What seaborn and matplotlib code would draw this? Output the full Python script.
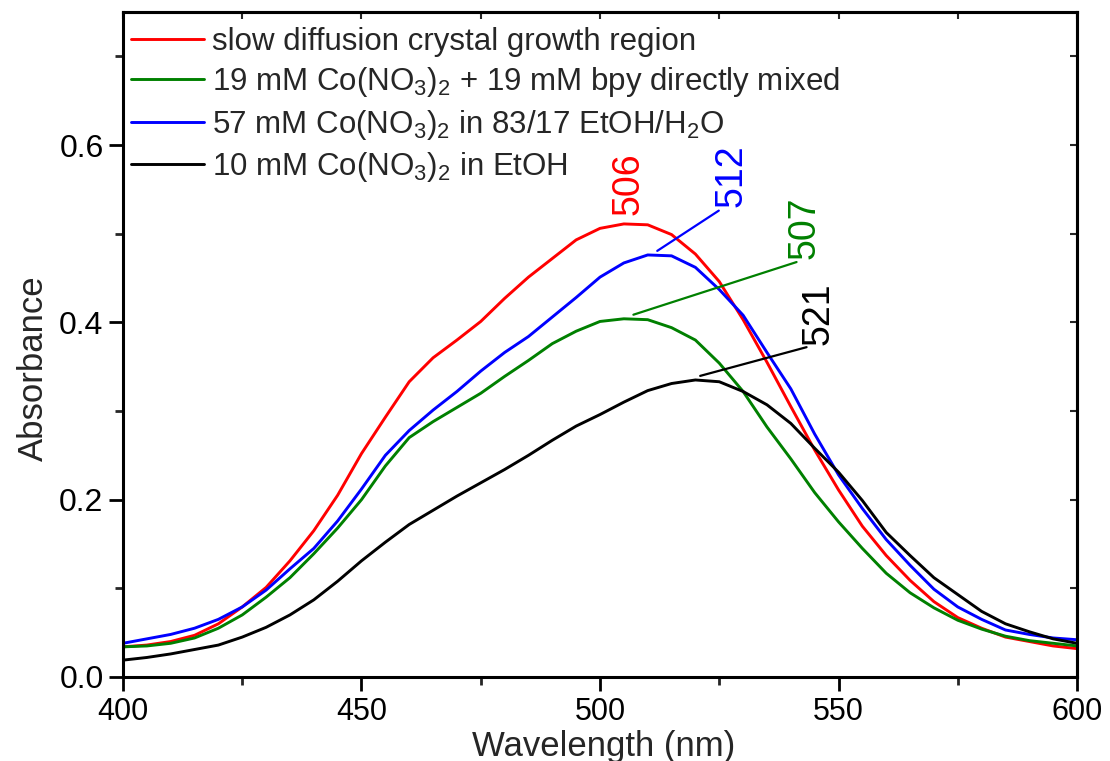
import numpy as np
import pandas as pd
import matplotlib
matplotlib.use("Agg")
import matplotlib.pyplot as plt
import seaborn as sns
from matplotlib.ticker import MultipleLocator, NullFormatter, FormatStrFormatter
from matplotlib.lines import Line2D

# ---- spectra (absorbance vs wavelength, nm) ----
wavelength = [400, 405, 410, 415, 420, 425, 430, 435, 440, 445,
              450, 455, 460, 465, 470, 475, 480, 485, 490, 495,
              500, 505, 510, 515, 520, 525, 530, 535, 540, 545,
              550, 555, 560, 565, 570, 575, 580, 585, 590, 595, 600]

slow_diffusion = [0.034, 0.036, 0.040, 0.047, 0.060, 0.079, 0.101, 0.131, 0.165, 0.205,
                  0.252, 0.293, 0.333, 0.360, 0.380, 0.401, 0.427, 0.451, 0.472, 0.493,
                  0.506, 0.511, 0.510, 0.499, 0.477, 0.446, 0.403, 0.355, 0.305, 0.256,
                  0.211, 0.170, 0.137, 0.109, 0.085, 0.067, 0.055, 0.045, 0.040, 0.035, 0.032]

direct_mix = [0.034, 0.035, 0.038, 0.044, 0.055, 0.070, 0.090, 0.112, 0.139, 0.168,
              0.200, 0.238, 0.270, 0.288, 0.304, 0.320, 0.339, 0.357, 0.376, 0.390,
              0.401, 0.404, 0.403, 0.394, 0.380, 0.354, 0.322, 0.282, 0.246, 0.208,
              0.175, 0.145, 0.117, 0.095, 0.078, 0.064, 0.054, 0.046, 0.041, 0.038, 0.035]

etoh_water = [0.038, 0.043, 0.048, 0.055, 0.065, 0.079, 0.098, 0.122, 0.145, 0.176,
              0.212, 0.250, 0.278, 0.301, 0.322, 0.345, 0.366, 0.384, 0.406, 0.428,
              0.451, 0.467, 0.476, 0.475, 0.462, 0.437, 0.408, 0.366, 0.325, 0.274,
              0.228, 0.190, 0.155, 0.126, 0.099, 0.079, 0.065, 0.053, 0.048, 0.044, 0.042]

etoh_only = [0.019, 0.022, 0.026, 0.031, 0.036, 0.045, 0.056, 0.070, 0.087, 0.108,
             0.131, 0.152, 0.172, 0.188, 0.204, 0.219, 0.234, 0.250, 0.267, 0.283,
             0.296, 0.310, 0.323, 0.331, 0.335, 0.333, 0.322, 0.307, 0.286, 0.258,
             0.231, 0.199, 0.163, 0.137, 0.112, 0.093, 0.074, 0.060, 0.051, 0.043, 0.038]

series_labels = [
    "slow diffusion crystal growth region",
    "19 mM Co(NO$_3$)$_2$ + 19 mM bpy directly mixed",
    "57 mM Co(NO$_3$)$_2$ in 83/17 EtOH/H$_2$O",
    "10 mM Co(NO$_3$)$_2$ in EtOH",
]
series_values = [slow_diffusion, direct_mix, etoh_water, etoh_only]
peak_nm = [506, 507, 512, 521]

colors = ["#ff0000", "#008000", "#0000ff", "#000000"]

# where each peak label sits and where its leader line ends
label_pos = [(506.0, 0.521), (542.8, 0.472), (527.6, 0.530), (545.9, 0.374)]
leader_end = [None, (541.2, 0.468), (524.9, 0.526), (543.3, 0.372)]

df = pd.concat(
    [pd.DataFrame({"Wavelength": wavelength, "Absorbance": vals, "sample": lab})
     for lab, vals in zip(series_labels, series_values)],
    ignore_index=True,
)

sns.set_style("white")
plt.rcParams["font.family"] = ["Liberation Sans", "DejaVu Sans"]
plt.rcParams["mathtext.fontset"] = "custom"
plt.rcParams["mathtext.rm"] = "Liberation Sans"
plt.rcParams["mathtext.it"] = "Liberation Sans:italic"
plt.rcParams["mathtext.bf"] = "Liberation Sans:bold"
plt.rcParams["mathtext.default"] = "regular"

fig = plt.figure(figsize=(11.1, 7.61), dpi=100)
ax = fig.add_axes([0.1108, 0.1104, 0.8595, 0.8738])

sns.lineplot(data=df, x="Wavelength", y="Absorbance", hue="sample",
             hue_order=series_labels, palette=colors, linewidth=2.1,
             sort=False, legend=False, ax=ax)

# peak labels with leader lines
for vals, pk, col, tpos, lend in zip(series_values, peak_nm, colors, label_pos, leader_end):
    if lend is not None:
        y0 = float(np.interp(pk, wavelength, vals)) + 0.005
        ax.plot([pk, lend[0]], [y0, lend[1]], color=col, lw=1.6)
    ax.text(tpos[0], tpos[1], f"{pk}", color=col, fontsize=27, rotation=90,
            ha="center", va="bottom")

ax.set_xlim(400, 600)
ax.set_ylim(0, 0.75)
ax.xaxis.set_major_locator(MultipleLocator(50))
ax.xaxis.set_minor_locator(MultipleLocator(25))
ax.yaxis.set_major_locator(MultipleLocator(0.2))
ax.yaxis.set_minor_locator(MultipleLocator(0.1))
ax.yaxis.set_major_formatter(FormatStrFormatter("%.1f"))

ax.tick_params(axis="both", which="major", direction="out", length=10, width=2,
               labelsize=23, pad=4, top=False, right=False, bottom=True, left=True,
               colors="black")
ax.tick_params(axis="x", which="major", labelsize=22, pad=4.5)
ax.tick_params(axis="both", which="minor", direction="out", length=5.5, width=2,
               top=False, right=False, bottom=True, left=True)
for side in ax.spines:
    ax.spines[side].set_linewidth(2.2)
    ax.spines[side].set_color("black")

# inward ticks on the top and right frame
sec_x = ax.secondary_xaxis("top")
sec_x.xaxis.set_major_locator(MultipleLocator(25))
sec_x.xaxis.set_major_formatter(NullFormatter())
sec_x.tick_params(direction="in", length=5, width=1.5)
sec_x.spines["top"].set_linewidth(2.2)
sec_y = ax.secondary_yaxis("right")
sec_y.yaxis.set_major_locator(MultipleLocator(0.1))
sec_y.yaxis.set_major_formatter(NullFormatter())
sec_y.tick_params(direction="in", length=5, width=1.5)
sec_y.spines["right"].set_linewidth(2.2)

ax.set_xlabel("Wavelength (nm)", fontsize=25)
ax.set_ylabel("Absorbance", fontsize=25)
ax.xaxis.set_label_coords(0.504, -0.080)
ax.yaxis.set_label_coords(-0.077, 0.465)

handles = [Line2D([], [], color=c, lw=2.1) for c in colors]
ax.legend(handles, series_labels, loc="upper left", bbox_to_anchor=(0.008, 0.978),
          frameon=False, fontsize=22.5, handlelength=2.35, handletextpad=0.25,
          labelspacing=0.27, borderpad=0, borderaxespad=0)

fig.savefig("out.png", dpi=100)
